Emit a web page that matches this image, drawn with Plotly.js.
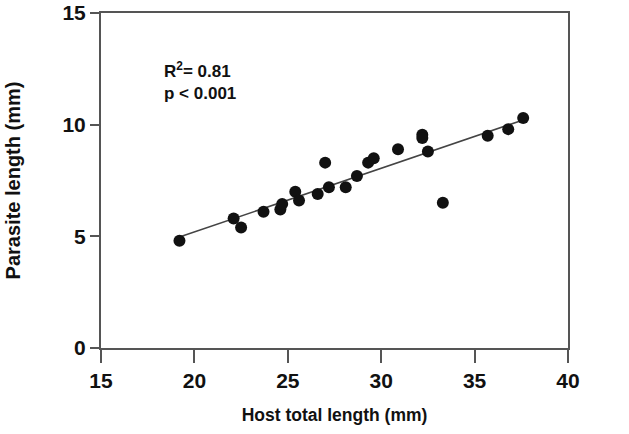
<!DOCTYPE html>
<html>
<head>
<meta charset="utf-8">
<script src="https://cdn.plot.ly/plotly-3.0.1.min.js"></script>
<style>
  html, body { margin: 0; padding: 0; background: #fff; }
  #plotlyDiv { width: 629px; height: 434px; }
</style>
</head>
<body>
<div id="plotlyDiv"></div>
<script>
// host total length (mm) and parasite length (mm)
var hostLength = [19.2, 22.1, 22.5, 23.7, 24.6, 24.7, 25.4, 25.6, 26.6, 27.0, 27.2, 28.1,
                  28.7, 29.3, 29.6, 30.9, 32.2, 32.2, 32.5, 33.3, 35.7, 36.8, 37.6];
var parasiteLength = [4.8, 5.8, 5.4, 6.1, 6.2, 6.45, 7.0, 6.6, 6.9, 8.3, 7.2, 7.2,
                      7.7, 8.3, 8.5, 8.9, 9.55, 9.4, 8.8, 6.5, 9.5, 9.8, 10.3];
var xTicks = [15, 20, 25, 30, 35, 40];
var yTicks = [0, 5, 10, 15];
var statsText = ['R<sup>2</sup>= 0.81', 'p < 0.001'];

// least squares fit drawn over the range of the data
function fitLine(xs, ys) {
    var n = xs.length, sx = 0, sy = 0, sxx = 0, sxy = 0;
    for (var i = 0; i < n; i++) {
        sx += xs[i]; sy += ys[i]; sxx += xs[i] * xs[i]; sxy += xs[i] * ys[i];
    }
    var slope = (n * sxy - sx * sy) / (n * sxx - sx * sx);
    var icpt = (sy - slope * sx) / n;
    var x0 = Math.min.apply(null, xs), x1 = Math.max.apply(null, xs);
    return {x: [x0, x1], y: [icpt + slope * x0, icpt + slope * x1]};
}

var fit = fitLine(hostLength, parasiteLength);

var trace1 = {
    type: 'scatter',
    mode: 'lines',
    x: fit.x,
    y: fit.y,
    line: {color: '#444', width: 1.6},
    hoverinfo: 'skip'
};

var trace2 = {
    type: 'scatter',
    mode: 'markers',
    x: hostLength,
    y: parasiteLength,
    marker: {color: '#111', size: 12}
};

var data = [trace1, trace2];

var fam = 'Liberation Sans, Arial, sans-serif';
var tickFont = {family: fam, size: 21, color: '#111', weight: 'bold'};

var layout = {
    width: 629,
    height: 434,
    showlegend: false,
    paper_bgcolor: '#fff',
    plot_bgcolor: '#fff',
    margin: {l: 101, r: 61, t: 13, b: 86},
    xaxis: {
        range: [15, 40],
        tickvals: xTicks,
        ticks: 'outside',
        ticklen: 13,
        tickwidth: 2,
        tickcolor: '#555',
        showline: true,
        linecolor: '#555',
        linewidth: 2,
        mirror: true,
        showgrid: false,
        zeroline: false,
        tickfont: tickFont,
        title: {text: 'Host total length (mm)', font: {family: fam, size: 17.5, color: '#111', weight: 'bold'}, standoff: 18}
    },
    yaxis: {
        range: [0, 15],
        tickvals: yTicks,
        ticks: 'outside',
        ticklen: 9,
        tickwidth: 2,
        tickcolor: '#555',
        showline: true,
        linecolor: '#555',
        linewidth: 2,
        mirror: true,
        showgrid: false,
        zeroline: false,
        tickfont: tickFont,
        title: {text: 'Parasite length (mm)', font: {family: fam, size: 20, color: '#111', weight: 'bold'}, standoff: 36}
    },
    annotations: [{
        xref: 'paper', yref: 'paper',
        x: 0.13, y: 0.87,
        xanchor: 'left', yanchor: 'top',
        align: 'left',
        showarrow: false,
        text: statsText.join('<br>'),
        font: {family: fam, size: 17, color: '#111', weight: 'bold'}
    }]
};

Plotly.newPlot('plotlyDiv', data, layout, {displayModeBar: false});
</script>
</body>
</html>
